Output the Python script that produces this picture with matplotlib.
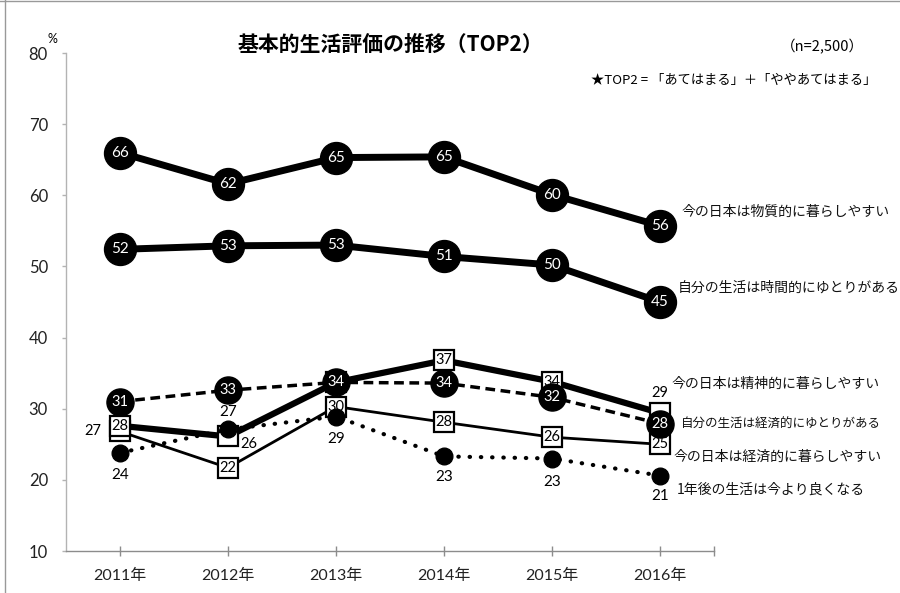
import matplotlib
matplotlib.use("Agg")
import matplotlib.pyplot as plt
from matplotlib.lines import Line2D

# データ（％）
years = ["2011年", "2012年", "2013年", "2014年", "2015年", "2016年"]
busshitsu = [66.0, 61.6, 65.3, 65.4, 60.1, 55.7]       # 今の日本は物質的に暮らしやすい
jikan = [52.4, 52.9, 53.0, 51.4, 50.2, 45.0]           # 自分の生活は時間的にゆとりがある
seishin = [27.6, 26.1, 33.7, 36.8, 33.8, 29.4]         # 今の日本は精神的に暮らしやすい
keizai_yutori = [31.0, 32.6, 33.7, 33.6, 31.6, 27.9]   # 自分の生活は経済的にゆとりがある
keizai_kurashi = [26.8, 21.7, 30.3, 28.1, 26.0, 25.0]  # 今の日本は経済的に暮らしやすい
ichinengo = [23.8, 27.1, 28.9, 23.3, 23.0, 20.6]       # 1年後の生活は今より良くなる

names = ["今の日本は物質的に暮らしやすい", "自分の生活は時間的にゆとりがある",
         "今の日本は精神的に暮らしやすい", "自分の生活は経済的にゆとりがある",
         "今の日本は経済的に暮らしやすい", "1年後の生活は今より良くなる"]

NUM_FONT = ["Lato", "Noto Sans CJK JP"]
JP_FONT = ["Noto Sans CJK JP", "DejaVu Sans"]
plt.rcParams["font.family"] = NUM_FONT

W, H = 900, 593
fig = plt.figure(figsize=(W / 100, H / 100), dpi=100)
ax = fig.add_axes([66 / W, 42 / H, 648 / W, 498 / H])
x = list(range(len(years)))


def labels(vals, z, color, offsets=None, skip=(), size=11):
    # 値ラベル（offsets はピクセル単位: 右+, 下+）
    for i, v in enumerate(vals):
        if i in skip:
            continue
        dx, dy = (0, 0) if offsets is None else offsets[i]
        ax.annotate(f"{v:.0f}", (x[i], v), xytext=(dx * 0.72, -dy * 0.72),
                    textcoords="offset points", ha="center", va="center",
                    fontsize=size, color=color, zorder=z, family=NUM_FONT)


sq = dict(marker="s", markersize=15, markerfacecolor="white",
          markeredgecolor="black", markeredgewidth=1.6, color="black")

# 今の日本は経済的に暮らしやすい（細線・四角）
ax.plot(x, keizai_kurashi, lw=2, zorder=3, **sq)
labels(keizai_kurashi, 3.5, "black",
       offsets=[(-27, 0), (0, 0), (0, 0), (0, 0), (0, 0), (0, 0)], size=10.5)

# 今の日本は精神的に暮らしやすい（太線・四角）
ax.plot(x, seishin, lw=4.5, zorder=4, **sq)
labels(seishin, 4.5, "black",
       offsets=[(0, 0), (21, 8), (0, 0), (0, 0), (0, 0), (0, -20)], skip=(2,), size=10.5)

# 1年後の生活は今より良くなる（点線・小丸）
ax.plot(x, ichinengo, color="black", lw=3, linestyle=(0, (0.1, 2.6)),
        dash_capstyle="round", marker="o", markersize=12, zorder=5)
labels(ichinengo, 5.5, "black",
       offsets=[(0, 22), (0, -17), (0, 22), (0, 21), (0, 23), (0, 20)])

# 自分の生活は経済的にゆとりがある（破線・丸）
ax.plot(x, keizai_yutori, color="black", lw=2.5, linestyle=(0, (2.8, 1.6)),
        marker="o", markersize=19.5, zorder=6)
labels(keizai_yutori, 6.5, "white", size=10.5)

# 物質的・時間的（太線・大丸）
for vals in (busshitsu, jikan):
    ax.plot(x, vals, color="black", lw=5, marker="o", markersize=23, zorder=7)
    labels(vals, 7.5, "white")

# 軸
ax.set_xlim(-0.5, 5.5)
ax.set_ylim(10, 80)
ax.set_yticks(range(10, 81, 10))
ax.set_xticks(x)
ax.set_xticklabels(years)
ax.set_xticks([5.5], minor=True)
for s in ("top", "right"):
    ax.spines[s].set_visible(False)
ax.spines["left"].set_color("#b3b3b3")
ax.spines["bottom"].set_color("#8c8c8c")
ax.spines["left"].set_linewidth(1)
ax.spines["bottom"].set_linewidth(1)
ax.tick_params(axis="y", direction="out", length=3, width=1, color="#b3b3b3",
               pad=10, labelsize=12, labelcolor="#222222")
ax.tick_params(axis="x", which="both", direction="inout", length=7, width=1,
               color="#8c8c8c", pad=9, labelsize=11.5, labelcolor="#222222")

# 系列名
name_pos = [(681, 212), (678, 288), (671, 384), (681, 424), (673, 457), (677, 490)]
name_size = [10, 10, 10, 9, 10, 10]
for (px, py), nm, fs in zip(name_pos, names, name_size):
    fig.text(px / W, 1 - py / H, nm, ha="left", va="center", fontsize=fs,
             family=JP_FONT, color="#111111")

# タイトル・注記
fig.text(238 / W, 1 - 44 / H, "基本的生活評価の推移（TOP2）", ha="left", va="center",
         fontsize=15, fontweight="bold", family=JP_FONT)
fig.text(864 / W, 1 - 47 / H, "（n=2,500）", ha="right", va="center",
         fontsize=10.5, family=JP_FONT)
fig.text(591 / W, 1 - 80 / H, "★TOP2 = 「あてはまる」＋「ややあてはまる」", ha="left",
         va="center", fontsize=9.5, family=JP_FONT)
fig.text(52 / W, 1 - 39 / H, "%", ha="center", va="center", fontsize=9)

# 枠線
fig.add_artist(Line2D([5 / W, 5 / W], [0, 1], color="#999999", lw=1))
fig.add_artist(Line2D([0, 1], [1 - 1 / H, 1 - 1 / H], color="#999999", lw=1))

fig.savefig("out.png", dpi=100)
